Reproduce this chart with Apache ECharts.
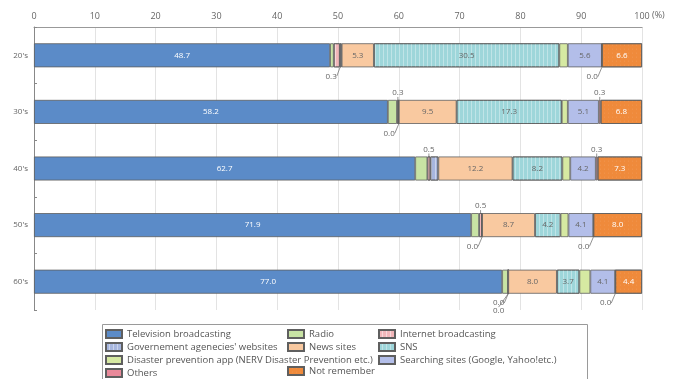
<!DOCTYPE html>
<html><head><meta charset="utf-8">
<script src="https://cdn.jsdelivr.net/npm/echarts@6/dist/echarts.min.js"></script>
<style>html,body{margin:0;padding:0;background:#fff}#c{width:679px;height:379px}</style>
</head><body><div id="c"></div>
<script>
const categories = ["20's", "30's", "40's", "50's", "60's"];
const xTicks = [0, 10, 20, 30, 40, 50, 60, 70, 80, 90, 100];

const television = [48.7, 58.2, 62.7, 71.9, 77.0];
const radio = [0.6, 1.5, 2.0, 1.3, 1.0];
const internetBroadcasting = [1.0, 0.3, 0.5, 0.5, 0.0];
const governmentSites = [0.3, 0.0, 1.3, 0.0, 0.0];
const newsSites = [5.3, 9.5, 12.2, 8.7, 8.0];
const sns = [30.5, 17.3, 8.2, 4.2, 3.7];
const disasterApp = [1.4, 1.0, 1.3, 1.3, 1.8];
const searchingSites = [5.6, 5.1, 4.2, 4.1, 4.1];
const others = [0.0, 0.3, 0.3, 0.0, 0.0];
const notRemember = [6.6, 6.8, 7.3, 8.0, 4.4];

const seriesDefs = [
  {name: 'Television broadcasting', data: television, color: '#5b8bc8', text: '#ffffff'},
  {name: 'Radio', data: radio, color: '#c8e3a4'},
  {name: 'Internet broadcasting', data: internetBroadcasting, color: '#f1b6b9',
   decal: {symbol: 'rect', symbolSize: 1, color: 'rgba(255,255,255,0.45)', dashArrayX: [1, 0], dashArrayY: [1, 3], rotation: Math.PI / 2}},
  {name: "Governement agenecies' websites", data: governmentSites, color: '#a7b6de',
   decal: {symbol: 'rect', symbolSize: 1, color: 'rgba(255,255,255,0.4)', dashArrayX: [1, 0], dashArrayY: [1, 3], rotation: Math.PI / 2}},
  {name: 'News sites', data: newsSites, color: '#f9c9a0'},
  {name: 'SNS', data: sns, color: '#9ed6da',
   decal: {symbol: 'rect', symbolSize: 1, color: 'rgba(255,255,255,0.35)', dashArrayX: [1, 0], dashArrayY: [1, 3], rotation: Math.PI / 2}},
  {name: 'Disaster prevention app (NERV Disaster Prevention etc.)', data: disasterApp, color: '#d6e9a2'},
  {name: 'Searching sites (Google, Yahoo!etc.)', data: searchingSites, color: '#b3bee9'},
  {name: 'Others', data: others, color: '#e9899a'},
  {name: 'Not remember', data: notRemember, color: '#ef8a3b', text: '#ffffff',
   decal: {symbol: 'circle', symbolSize: 0.5, color: 'rgba(255,255,255,0.6)', dashArrayX: [1, 3], dashArrayY: [2, 2]}}
];

// placement of small-value labels outside the bar (style config)
const outsidePlace = {
  'Internet broadcasting': ['', 'top', 'top', 'top', 'bottom'],
  "Governement agenecies' websites": ['bottom', 'bottom', '', 'bottom', 'bottom2'],
  'Others': ['bottom', 'top', 'top', 'bottom', 'bottom']
};

const chart = echarts.init(document.getElementById('c'), null, {renderer: 'canvas'});
const FONT = '"Open Sans", "Noto Sans", sans-serif';

const series = seriesDefs.map(function (d) {
  const place = outsidePlace[d.name] || ['', '', '', '', ''];
  return {
    name: d.name,
    type: 'bar',
    stack: 'total',
    barWidth: 24,
    data: d.data,
    itemStyle: {color: d.color, borderColor: '#5f5f5f', borderWidth: 0.8, decal: d.decal || null},
    emphasis: {disabled: true},
    label: {
      show: true,
      position: 'inside',
      fontFamily: FONT,
      fontSize: 8,
      color: d.text || '#666',
      formatter: function (p) {
        if (place[p.dataIndex]) return p.value.toFixed(1);
        return p.value >= 3 ? p.value.toFixed(1) : '';
      }
    },
    labelLine: {show: true, lineStyle: {color: '#777', width: 0.8}},
    labelLayout: function (p) {
      const pl = place[p.dataIndex];
      const r = p.rect;
      if (pl === 'top') {
        return {x: r.x + r.width / 2, y: r.y - 7, align: 'center', verticalAlign: 'middle'};
      } else if (pl === 'bottom') {
        return {x: r.x + r.width / 2 - 4, y: r.y + r.height + 9, align: 'right', verticalAlign: 'middle'};
      } else if (pl === 'bottom2') {
        return {x: r.x + r.width / 2 - 4, y: r.y + r.height + 17, align: 'right', verticalAlign: 'middle'};
      }
      return {};
    }
  };
});

function legendBox(names, left, top) {
  return {
    data: names,
    orient: 'vertical',
    left: left,
    top: top,
    padding: 0,
    itemGap: 1,
    itemWidth: 16,
    itemHeight: 8,
    icon: 'rect',
    selectedMode: false,
    textStyle: {fontFamily: FONT, fontSize: 9.5, color: '#555', lineHeight: 12, padding: [0, 0, 0, 0]}
  };
}

chart.setOption({
  animation: false,
  textStyle: {fontFamily: FONT},
  grid: {left: 34, right: 37, top: 27, bottom: 69},
  xAxis: {
    type: 'value',
    position: 'top',
    min: 0,
    max: 100,
    interval: 10,
    axisLine: {show: true, lineStyle: {color: '#999'}},
    axisTick: {show: false},
    axisLabel: {fontSize: 9, color: '#666', margin: 6,
      formatter: function (v) { return xTicks.indexOf(v) >= 0 ? String(v) : ''; }},
    splitLine: {show: true, lineStyle: {color: '#e3e3e3'}}
  },
  yAxis: {
    type: 'category',
    inverse: true,
    data: categories,
    axisLine: {show: true, lineStyle: {color: '#888'}},
    axisTick: {show: true, inside: true, length: 3, lineStyle: {color: '#888'}},
    axisLabel: {fontSize: 8, color: '#666', margin: 6}
  },
  legend: [
    legendBox(['Television broadcasting', "Governement agenecies' websites",
      'Disaster prevention app (NERV Disaster Prevention etc.)', 'Others'], 105, 328),
    legendBox(['Radio', 'News sites'], 287, 328),
    legendBox(['Not remember'], 287, 365),
    legendBox(['Internet broadcasting', 'SNS', 'Searching sites (Google, Yahoo!etc.)'], 378, 328)
  ],
  graphic: [
    {type: 'rect', left: 100, top: 322, shape: {width: 485, height: 57},
     style: {fill: 'none', stroke: '#9a9a9a', lineWidth: 1}, silent: true, z: -1},
    {type: 'text', left: 652, top: 11, style: {text: '(%)', fontSize: 9, fill: '#666', fontFamily: FONT}}
  ],
  series: series
});
</script></body></html>
